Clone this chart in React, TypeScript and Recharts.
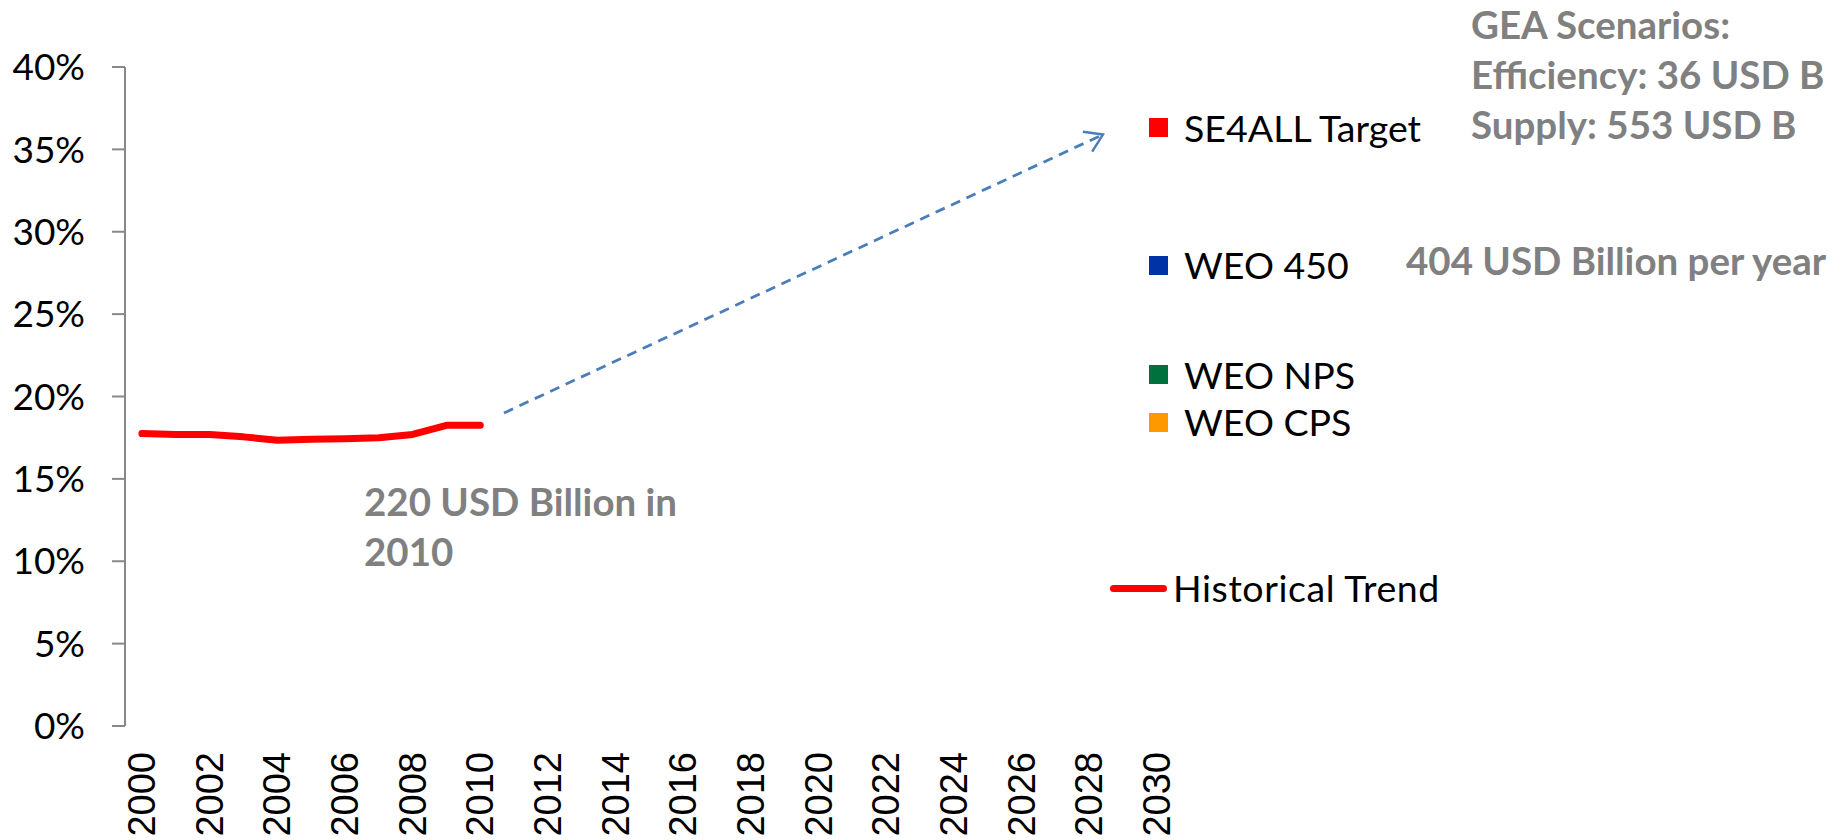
import React from 'react';
import {
  ComposedChart,
  Line,
  XAxis,
  YAxis,
  Legend,
} from 'recharts';

// historical share of renewables (percent), 2000-2010
const histYears = [2000, 2001, 2002, 2003, 2004, 2005, 2006, 2007, 2008, 2009, 2010];
const histShare = [17.75, 17.7, 17.7, 17.55, 17.35, 17.4, 17.43, 17.5, 17.7, 18.25, 18.25];

// dashed arrow towards the SE4ALL target
const arrowYears = [2010.7, 2028.4];
const arrowShare = [19.0, 35.9];

const yTicks = [0, 5, 10, 15, 20, 25, 30, 35, 40];
const yearLabels = [2000, 2002, 2004, 2006, 2008, 2010, 2012, 2014, 2016, 2018, 2020, 2022, 2024, 2026, 2028, 2030];
const yearEdges = Array.from({ length: 32 }, (_, i) => 1999.5 + i);

const scenarioNames = ['SE4ALL Target', 'WEO 450', 'WEO NPS', 'WEO CPS'];
const scenarioColors = ['#ff0000', '#0033a6', '#00703c', '#ff9900'];

const historical = histYears.map((year, i) => ({ year, share: histShare[i] }));
const arrow = arrowYears.map((year, i) => ({ year, share: arrowShare[i] }));

const AXIS_GREY = '#888888';
const NOTE_GREY = '#808080';

const YearTick = ({ x, y, payload }: any) => (
  <text
    transform={`translate(${x},${y}) rotate(-90)`}
    textAnchor="end"
    dominantBaseline="central"
    fontFamily="Liberation Sans"
    fontSize={38}
    fill="#000"
  >
    {payload.value}
  </text>
);

const legendTops = [127.5, 265, 374.5, 422];

const ChartLegend = () => (
  <div style={{ position: 'relative', fontFamily: 'Lato', fontSize: 37.5, color: '#000' }}>
    {scenarioNames.map((name, i) => (
      <div key={name} style={{ position: 'absolute', left: 1149, top: legendTops[i] - 20, height: 40, display: 'flex', alignItems: 'center', whiteSpace: 'nowrap' }}>
        <span style={{ width: 19, height: 19, background: scenarioColors[i], display: 'inline-block' }} />
        <span style={{ marginLeft: 16, lineHeight: 1 }}>{name}</span>
      </div>
    ))}
    <div style={{ position: 'absolute', left: 1110, top: 588 - 20, height: 40, display: 'flex', alignItems: 'center', whiteSpace: 'nowrap' }}>
      <span style={{ width: 57, height: 7, borderRadius: 4, background: '#ff0000', display: 'inline-block' }} />
      <span style={{ marginLeft: 6, lineHeight: 1, letterSpacing: 0.6 }}>Historical Trend</span>
    </div>
  </div>
);

const NOTE_SIZE = 38.5;
const noteStyle: React.CSSProperties = {
  position: 'absolute',
  fontFamily: 'Lato',
  fontWeight: 700,
  fontSize: NOTE_SIZE,
  lineHeight: 1,
  color: NOTE_GREY,
  whiteSpace: 'nowrap',
};
const noteTop = (centre: number) => centre - NOTE_SIZE * 0.53;

export default function App() {
  return (
    <div style={{ position: 'absolute', left: 0, top: 0, width: 1841, height: 840, background: '#fff' }}>
      <svg width={0} height={0} style={{ position: 'absolute' }}>
        <defs>
          <marker id="arrowHead" markerUnits="userSpaceOnUse" markerWidth={24} markerHeight={24} viewBox="0 0 24 24" refX={20} refY={12} orient="auto">
            <path d="M3,1 L20,12 L3,23" fill="none" stroke="#4a7ebb" strokeWidth={2.5} />
          </marker>
        </defs>
      </svg>
      <ComposedChart width={1841} height={840} margin={{ top: 67, right: 667, bottom: 0, left: 0 }}>
        <YAxis
          type="number"
          domain={[0, 40]}
          ticks={yTicks}
          width={125}
          tickFormatter={v => `${v}%`}
          tick={{ fill: '#000', fontSize: 37, fontFamily: 'Lato' }}
          tickSize={13}
          tickMargin={27}
          axisLine={{ stroke: AXIS_GREY, strokeWidth: 2 }}
          tickLine={{ stroke: AXIS_GREY, strokeWidth: 2 }}
        />
        <XAxis
          xAxisId="edges"
          dataKey="year"
          type="number"
          domain={[1999.5, 2030.5]}
          ticks={yearEdges}
          allowDataOverflow
          height={0}
          tick={false}
          tickSize={13}
          axisLine={{ stroke: AXIS_GREY, strokeWidth: 2 }}
          tickLine={{ stroke: AXIS_GREY, strokeWidth: 2 }}
        />
        <XAxis
          xAxisId="labels"
          dataKey="year"
          type="number"
          domain={[1999.5, 2030.5]}
          ticks={yearLabels}
          allowDataOverflow
          height={114}
          tick={<YearTick />}
          tickSize={0}
          tickMargin={26}
          axisLine={false}
          tickLine={false}
          interval={0}
        />
        <Line
          xAxisId="edges"
          data={historical}
          dataKey="share"
          name="Historical Trend"
          stroke="#ff0000"
          strokeWidth={7}
          strokeLinecap="round"
          strokeLinejoin="round"
          dot={false}
          isAnimationActive={false}
        />
        <Line
          xAxisId="edges"
          data={arrow}
          dataKey="share"
          name="arrow"
          stroke="#4a7ebb"
          strokeWidth={2.8}
          strokeDasharray="10 7"
          markerEnd="url(#arrowHead)"
          dot={false}
          legendType="none"
          isAnimationActive={false}
        />
        <Legend
          layout="vertical"
          align="center"
          verticalAlign="middle"
          wrapperStyle={{ left: 0, top: 0, width: 0, height: 0 }}
          content={() => <ChartLegend />}
        />
      </ComposedChart>
      <div style={{ ...noteStyle, left: 364, top: noteTop(502) }}>220 USD Billion in</div>
      <div style={{ ...noteStyle, left: 364, top: noteTop(552) }}>2010</div>
      <div style={{ ...noteStyle, left: 1471, top: noteTop(25) }}>GEA Scenarios:</div>
      <div style={{ ...noteStyle, left: 1471, top: noteTop(75) }}>Efficiency: 36 USD B</div>
      <div style={{ ...noteStyle, left: 1471, top: noteTop(125) }}>Supply: 553 USD B</div>
      <div style={{ ...noteStyle, left: 1406, top: noteTop(261) }}>404 USD Billion per year</div>
    </div>
  );
}
